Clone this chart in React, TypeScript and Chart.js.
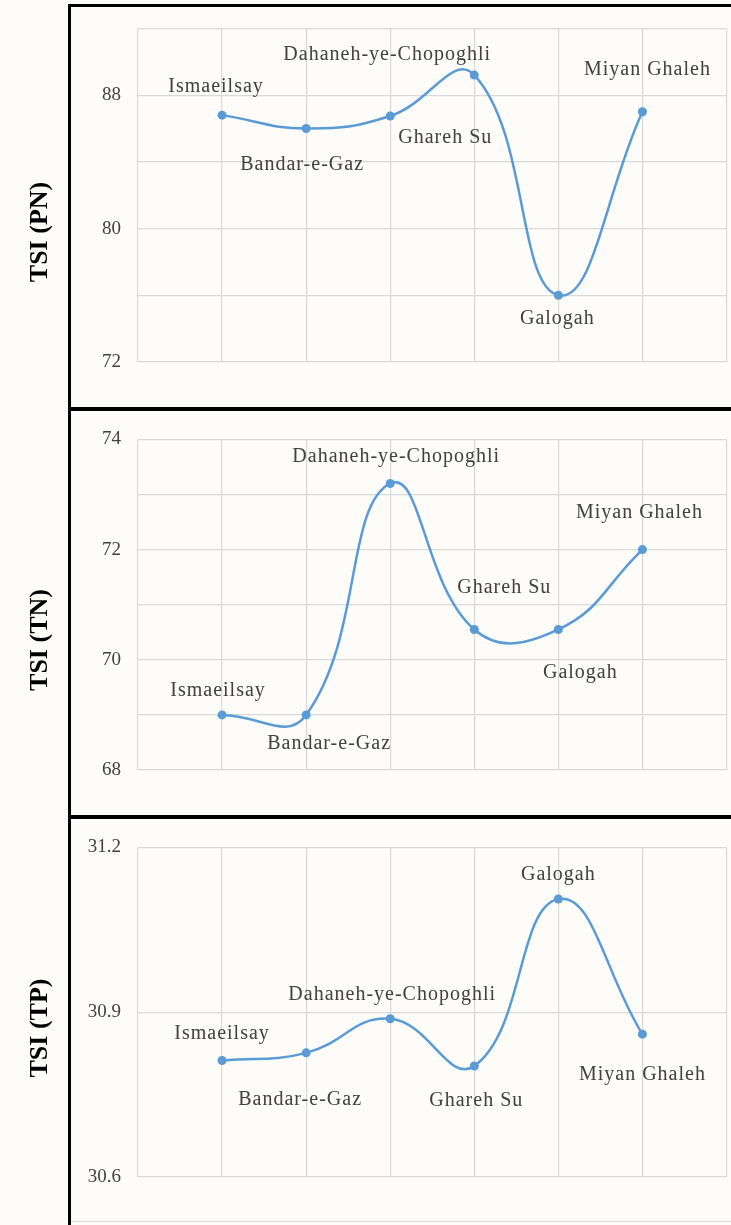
import React, { useEffect, useRef } from 'react';
import { Chart, registerables } from 'chart.js';

Chart.register(...registerables);

// ---------- data ----------
const STATIONS = ['Ismaeilsay', 'Bandar-e-Gaz', 'Dahaneh-ye-Chopoghli', 'Ghareh Su', 'Galogah', 'Miyan Ghaleh'];

const TSI_PN = [86.8, 86.0, 86.75, 89.2, 76.0, 87.0];
const TSI_TN = [69.0, 69.0, 73.2, 70.55, 70.55, 72.0];
const TSI_TP = [30.812, 30.826, 30.888, 30.802, 31.106, 30.86];

const PN_TICK_LABELS = ['72', '80', '88'];
const TN_TICK_LABELS = ['68', '70', '72', '74'];
const TP_TICK_LABELS = ['30.6', '30.9', '31.2'];

// ---------- label placement (text centre relative to point, px) ----------
const PN_LABEL_OFFSETS = [[-6, -28], [-4, 36], [-3, -61], [-29, 63], [-1, 23], [5, -42]];
const TN_LABEL_OFFSETS = [[-4, -24], [23, 29], [6, -27], [30, -42], [22, 43], [-3, -37]];
const TP_LABEL_OFFSETS = [[0, -27], [-6, 47], [2, -24], [2, 35], [0, -24], [0, 41]];

const BLUE = '#5b9bd5';
const GRID = '#d9d9d9';
const TEXT = '#404040';
const SERIF = '"Liberation Serif", "Times New Roman", serif';

type PanelProps = {
  top: number;
  height: number;
  padTop: number;
  padBottom: number;
  values: number[];
  min: number;
  max: number;
  step: number;
  decimals: number;
  tickLabels: string[];
  title: string;
  titleY: number;
  offsets: number[][];
};

function Panel(props: PanelProps) {
  const ref = useRef<HTMLCanvasElement | null>(null);
  useEffect(() => {
    const canvas = ref.current;
    if (!canvas) return;
    const { values, min, max, step, decimals, tickLabels, title, titleY, offsets, padTop, padBottom } = props;

    const labelPlugin = {
      id: 'pointLabels',
      afterDatasetsDraw(chart: any) {
        const meta = chart.getDatasetMeta(0);
        const ctx = chart.ctx;
        ctx.save();
        ctx.font = `20px ${SERIF}`;
        try { (ctx as any).letterSpacing = '1px'; } catch (e) {}
        ctx.fillStyle = TEXT;
        ctx.textAlign = 'center';
        ctx.textBaseline = 'middle';
        meta.data.forEach((pt: any, i: number) => {
          ctx.fillText(STATIONS[i], pt.x + offsets[i][0], pt.y + offsets[i][1]);
        });
        ctx.restore();
      },
    };

    const titlePlugin = {
      id: 'sideTitle',
      afterDraw(chart: any) {
        const ctx = chart.ctx;
        ctx.save();
        ctx.translate(40, titleY);
        ctx.rotate(-Math.PI / 2);
        ctx.font = `bold 26px ${SERIF}`;
        ctx.fillStyle = '#000000';
        ctx.textAlign = 'center';
        ctx.textBaseline = 'middle';
        ctx.fillText(title, 0, 0);
        ctx.restore();
      },
    };

    const chart = new Chart(canvas, {
      type: 'line',
      data: {
        datasets: [
          {
            data: values.map((v, i) => ({ x: i + 1, y: v })),
            borderColor: BLUE,
            backgroundColor: BLUE,
            borderWidth: 2.5,
            pointRadius: 4.5,
            pointBorderWidth: 0,
            pointBackgroundColor: BLUE,
            tension: 0.45,
            fill: false,
          },
        ],
      },
      options: {
        responsive: false,
        animation: false,
        layout: { padding: { top: padTop, bottom: padBottom, left: 0, right: 4 } },
        plugins: { legend: { display: false }, tooltip: { enabled: false } },
        scales: {
          x: {
            type: 'linear',
            min: 0,
            max: STATIONS.length + 1,
            ticks: { display: false, stepSize: 1 },
            grid: { color: GRID, lineWidth: 1.2, drawTicks: false },
            border: { display: false },
          },
          y: {
            type: 'linear',
            min,
            max,
            ticks: {
              stepSize: step,
              padding: 17,
              color: TEXT,
              font: { family: SERIF, size: 19 },
              callback: (v: any) => {
                const s = Number(v).toFixed(decimals);
                return tickLabels.includes(s) ? s : '';
              },
            },
            grid: { color: GRID, lineWidth: 1.2, drawTicks: false },
            border: { display: false },
            afterFit: (s: any) => {
              s.width = 138;
            },
          },
        },
      },
      plugins: [labelPlugin, titlePlugin],
    } as any);
    return () => chart.destroy();
  }, []);
  return (
    <canvas
      ref={ref}
      width={731}
      height={props.height}
      style={{ position: 'absolute', left: 0, top: props.top, width: 731, height: props.height }}
    />
  );
}

export default function App() {
  const line = (style: React.CSSProperties) => (
    <div style={{ position: 'absolute', background: '#000', zIndex: 2, ...style }} />
  );
  return (
    <div
      style={{
        position: 'fixed',
        left: 0,
        top: 0,
        width: 731,
        height: 1225,
        background: '#fdfcf8',
        overflow: 'hidden',
      }}
    >
      <Panel top={0} height={407} padTop={27} padBottom={45} values={TSI_PN} min={72} max={92} step={4}
        decimals={0} tickLabels={PN_TICK_LABELS} title="TSI (PN)" titleY={232} offsets={PN_LABEL_OFFSETS} />
      <Panel top={411} height={404} padTop={23} padBottom={45} values={TSI_TN} min={68} max={74} step={1}
        decimals={0} tickLabels={TN_TICK_LABELS} title="TSI (TN)" titleY={229} offsets={TN_LABEL_OFFSETS} />
      <Panel top={819} height={406} padTop={22} padBottom={48} values={TSI_TP} min={30.6} max={31.2} step={0.3}
        decimals={1} tickLabels={TP_TICK_LABELS} title="TSI (TP)" titleY={209} offsets={TP_LABEL_OFFSETS} />
      {line({ left: 68, top: 4, width: 3, height: 1221 })}
      {line({ left: 68, top: 4, width: 663, height: 3 })}
      {line({ left: 68, top: 407, width: 663, height: 4 })}
      {line({ left: 68, top: 815, width: 663, height: 4 })}
      <div style={{ position: 'absolute', left: 71, top: 1221, width: 660, height: 1, background: '#dddddd' }} />
    </div>
  );
}
